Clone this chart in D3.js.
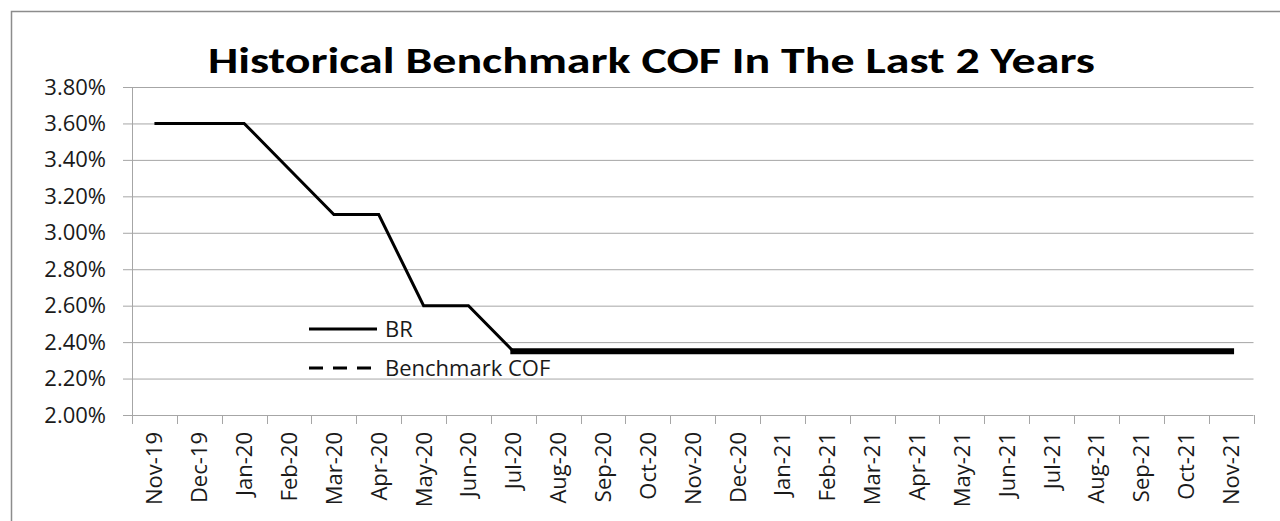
<!DOCTYPE html>
<html>
<head>
<meta charset="utf-8">
<script src="https://cdn.jsdelivr.net/npm/d3@7"></script>
<style>
  body { margin: 0; background: #fff; }
  svg { display: block; font-family: "Open Sans", Calibri, sans-serif; }
</style>
</head>
<body>
<svg id="chart" width="1280" height="521"></svg>
<script>
// chart data
const months = ["Nov-19", "Dec-19", "Jan-20", "Feb-20", "Mar-20", "Apr-20", "May-20", "Jun-20", "Jul-20",
    "Aug-20", "Sep-20", "Oct-20", "Nov-20", "Dec-20", "Jan-21", "Feb-21", "Mar-21", "Apr-21", "May-21",
    "Jun-21", "Jul-21", "Aug-21", "Sep-21", "Oct-21", "Nov-21"];
const brValues = [0.0360, 0.0360, 0.0360, 0.0335, 0.0310, 0.0310, 0.0260, 0.0260, 0.0235,
    0.0235, 0.0235, 0.0235, 0.0235, 0.0235, 0.0235, 0.0235, 0.0235, 0.0235, 0.0235,
    0.0235, 0.0235, 0.0235, 0.0235, 0.0235, 0.0235];
const cofValues = [null, null, null, null, null, null, null, null, 0.0235,
    0.0235, 0.0235, 0.0235, 0.0235, 0.0235, 0.0235, 0.0235, 0.0235, 0.0235, 0.0235,
    0.0235, 0.0235, 0.0235, 0.0235, 0.0235, 0.0235];
const yTicks = [0.020, 0.022, 0.024, 0.026, 0.028, 0.030, 0.032, 0.034, 0.036, 0.038];
const seriesNames = ["BR", "Benchmark COF"];

let svg = d3.select('#chart');
let plot = {left: 132, right: 1253.5, top: 87, bottom: 415};
let gridColor = '#a6a6a6';
let labelFont = '"Open Sans", Calibri, sans-serif';

// outer frame (only left and top edges are visible)
svg.append('path')
    .attr('d', 'M11.5,521 V11.5 H1280')
    .attr('fill', 'none')
    .attr('stroke', '#8c8c8c')
    .attr('stroke-width', 1.5);

let x = d3.scaleBand().domain(months).range([plot.left, plot.right]).padding(0);
let y = d3.scaleLinear().domain([0.020, 0.038]).range([plot.bottom, plot.top]);

// gridlines + y labels
let yAxis = d3.axisLeft(y)
    .tickValues(yTicks)
    .tickSize(9)
    .tickPadding(17)
    .tickFormat(d3.format('.2%'));

let yg = svg.append('g')
    .attr('transform', `translate(${plot.left},0)`)
    .call(yAxis);
yg.select('.domain').remove();
yg.selectAll('.tick line')
    .attr('x1', -9)
    .attr('x2', plot.right - plot.left)
    .attr('stroke', gridColor);
yg.selectAll('.tick text')
    .attr('font-size', 22)
    .attr('font-family', labelFont)
    .attr('fill', '#1a1a1a');

// vertical axis line
svg.append('line')
    .attr('x1', plot.left + 0.5).attr('x2', plot.left + 0.5)
    .attr('y1', plot.top).attr('y2', plot.bottom + 9)
    .attr('stroke', gridColor);

// x axis: labels at band centres, ticks at band edges
let xAxis = d3.axisBottom(x).tickSize(0).tickPadding(0);
let xg = svg.append('g')
    .attr('transform', `translate(0,${plot.bottom})`)
    .call(xAxis);
xg.select('.domain').remove();
xg.selectAll('.tick text')
    .attr('transform', 'rotate(-90)')
    .attr('x', -17)
    .attr('y', 0)
    .attr('dy', '0.36em')
    .style('text-anchor', 'end')
    .attr('font-size', 22)
    .attr('font-family', labelFont)
    .attr('fill', '#1a1a1a');

let edges = months.map(m => x(m)).concat([x.range()[1]]);
svg.append('g').selectAll('line')
    .data(edges)
    .enter()
    .append('line')
    .attr('x1', d => Math.round(d) + 0.5)
    .attr('x2', d => Math.round(d) + 0.5)
    .attr('y1', plot.bottom)
    .attr('y2', plot.bottom + 9)
    .attr('stroke', gridColor);

// lines
let line = d3.line()
    .defined(d => d.v !== null)
    .x(d => x(d.m) + x.bandwidth() / 2)
    .y(d => y(d.v));

svg.append('path')
    .datum(months.map((m, i) => ({m: m, v: brValues[i]})))
    .attr('d', line)
    .attr('fill', 'none')
    .attr('stroke', '#000')
    .attr('stroke-width', 3)
    .attr('stroke-linejoin', 'miter');

svg.append('path')
    .datum(months.map((m, i) => ({m: m, v: cofValues[i]})))
    .attr('d', line)
    .attr('fill', 'none')
    .attr('stroke', '#000')
    .attr('stroke-width', 6)
    .attr('stroke-linecap', 'square');

// legend
let legend = svg.append('g');
let legendY = [329, 368];
legend.selectAll('line')
    .data(seriesNames)
    .enter()
    .append('line')
    .attr('x1', 309).attr('x2', 377)
    .attr('y1', (d, i) => legendY[i]).attr('y2', (d, i) => legendY[i])
    .attr('stroke', '#000')
    .attr('stroke-width', 3)
    .attr('stroke-dasharray', (d, i) => i === 1 ? '14,10' : null);
legend.selectAll('text')
    .data(seriesNames)
    .enter()
    .append('text')
    .attr('x', 385)
    .attr('y', (d, i) => legendY[i] + 8)
    .attr('font-size', 22)
    .attr('font-family', labelFont)
    .attr('fill', '#1a1a1a')
    .text(d => d);

// title
svg.append('text')
    .attr('x', 208)
    .attr('y', 73)
    .attr('font-size', 37)
    .attr('font-weight', 'bold')
    .attr('font-family', 'Calibri, Carlito, Lato, sans-serif')
    .attr('textLength', 887)
    .attr('lengthAdjust', 'spacingAndGlyphs')
    .attr('fill', '#000')
    .text('Historical Benchmark COF In The Last 2 Years');
</script>
</body>
</html>
